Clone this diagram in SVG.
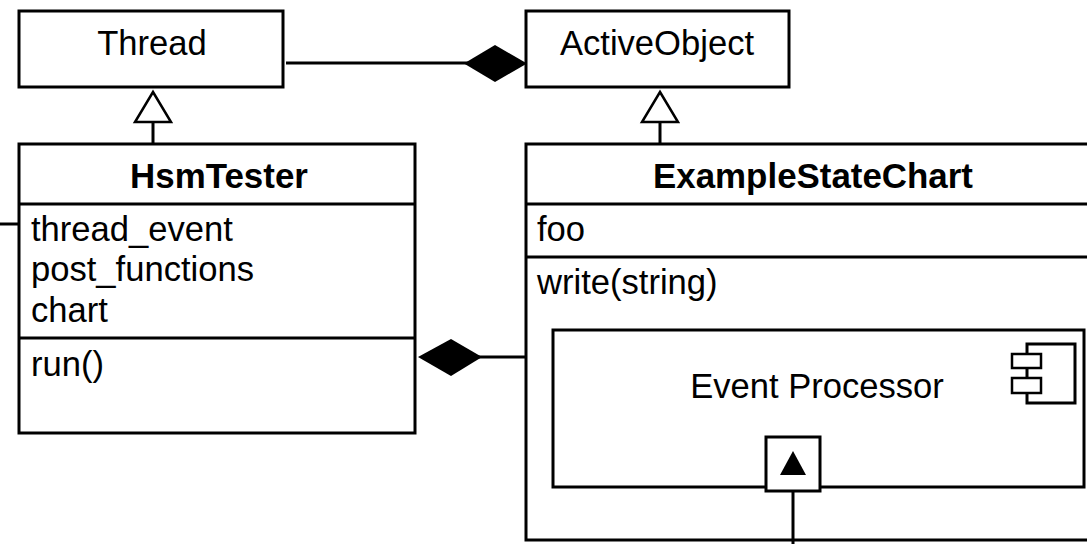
<svg xmlns="http://www.w3.org/2000/svg" width="1087" height="544" viewBox="0 0 1087 544">
<style>
text{font-family:"Liberation Sans",Arial,sans-serif;font-size:34.6px;fill:#000}
.c{text-anchor:middle}
.b{font-weight:bold;font-size:34.9px}
.s{fill:#fff;stroke:#000;stroke-width:3}
.t{fill:#fff;stroke:#000;stroke-width:2.5}
.l{fill:none;stroke:#000;stroke-width:3}
.d{fill:#000;stroke:none}
</style>
<rect width="1087" height="544" fill="#fff"/>
<g id="thread">
<rect class="s" x="19" y="11" width="264" height="76"/>
<text class="c" x="152" y="55">Thread</text>
</g>
<g id="active-object">
<rect class="s" x="526" y="11" width="263" height="76"/>
<text class="c" x="657" y="55">ActiveObject</text>
</g>
<g id="hsm-tester">
<rect class="s" x="19" y="144" width="396" height="289"/>
<path class="l" d="M19 204H415M19 338H415"/>
<text class="c b" x="219" y="188">HsmTester</text>
<text x="31" y="241">thread_event</text>
<text x="31" y="281">post_functions</text>
<text x="31" y="322">chart</text>
<text x="31" y="376">run()</text>
</g>
<g id="example-state-chart">
<path class="s" d="M1090 144H526V540H1090"/>
<path class="l" d="M526 204H1087M526 257H1087"/>
<text class="c b" x="813" y="188">ExampleStateChart</text>
<text x="537" y="241">foo</text>
<text x="537" y="294">write(string)</text>
</g>
<g id="event-processor">
<rect class="s" x="553" y="330" width="531" height="157"/>
<text class="c" x="817" y="398">Event Processor</text>
<path class="l" d="M1027 354V344H1075V403H1027V393M1027 368V378"/>
<rect class="t" x="1012" y="354" width="29" height="14"/>
<rect class="t" x="1012" y="378" width="29" height="15"/>
</g>
<g id="port">
<rect class="s" x="766" y="437" width="54" height="54"/>
<path class="d" d="M793 451L806 475H780Z"/>
</g>
<g id="connectors">
<path class="l" d="M286 63H470"/>
<path class="d" d="M464 63.500L495 45L527 63.500L495 82Z"/>
<path class="l" d="M153 122V144"/>
<path class="t" d="M153 92L171 122H135Z"/>
<path class="l" d="M660 122V144"/>
<path class="t" d="M660 92L678 122H642Z"/>
<path class="l" d="M0 224H19"/>
<path class="l" d="M476 357H526"/>
<path class="d" d="M418 357L451 339L482 357L451 376Z"/>
<path class="l" d="M793 491V544"/>
</g>
</svg>
